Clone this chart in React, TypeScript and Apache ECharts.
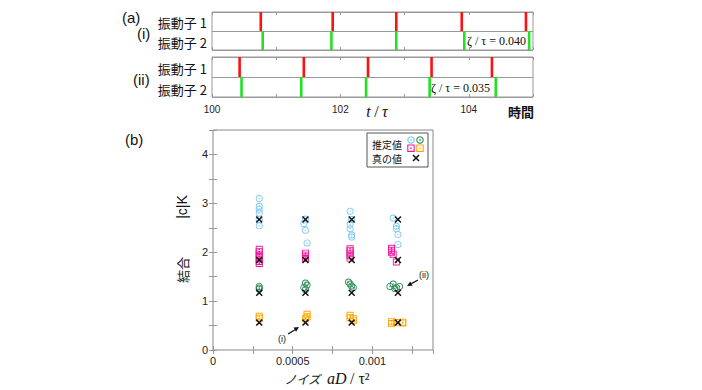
import React, { useEffect, useRef } from 'react';
import * as echarts from 'echarts';

// ---------- data ----------
// panel (a): spike times t/τ of each oscillator
const spikesOsc1_i = [100.76, 101.88, 102.87, 103.89, 104.89];
const spikesOsc2_i = [100.79, 101.86, 102.87, 103.93, 104.94];
const spikesOsc1_ii = [100.43, 101.43, 102.43, 103.42, 104.36];
const spikesOsc2_ii = [100.46, 101.39, 102.40, 103.39, 104.42];
const timeTickLabels = [100, 102, 104];
const rowLabels = ['振動子 1', '振動子 2'];
const zetaLabels = ['ζ / τ = 0.040', 'ζ / τ = 0.035'];

// panel (b): [noise aD/τ², coupling |c|K]
const estBlue: [number, number][] = [
  [0.00029, 3.10], [0.00029, 2.94], [0.00029, 2.88], [0.00029, 2.80], [0.00029, 2.67], [0.00029, 2.54],
  [0.00058, 2.68], [0.00057, 2.59], [0.00058, 2.45], [0.00059, 2.19],
  [0.00086, 2.84], [0.00087, 2.67], [0.00086, 2.57], [0.00086, 2.48], [0.00087, 2.35], [0.00087, 2.31],
  [0.00113, 2.70], [0.00115, 2.53], [0.00115, 2.48], [0.00116, 2.36], [0.00116, 2.16],
];
const estPink: [number, number][] = [
  [0.00029, 2.06], [0.00029, 2.01], [0.00029, 1.96], [0.00029, 1.91], [0.00029, 1.86], [0.00029, 1.81], [0.00029, 1.77],
  [0.00058, 1.98], [0.00058, 1.94], [0.00058, 1.90], [0.00058, 1.87],
  [0.00086, 2.07], [0.00086, 2.03], [0.00086, 1.98], [0.00086, 1.93], [0.00086, 1.88],
  [0.00112, 2.08], [0.00112, 2.04], [0.00112, 2.00], [0.00113, 1.96], [0.00115, 1.80],
];
const estGreen: [number, number][] = [
  [0.00029, 1.30], [0.00029, 1.27], [0.00029, 1.25],
  [0.00058, 1.37], [0.00059, 1.33], [0.00057, 1.28], [0.00058, 1.24],
  [0.00085, 1.39], [0.00086, 1.35], [0.00087, 1.31], [0.00088, 1.28],
  [0.00111, 1.30], [0.00113, 1.35], [0.00115, 1.28], [0.00117, 1.30], [0.00114, 1.26],
];
const estOrange: [number, number][] = [
  [0.00029, 0.69], [0.00029, 0.65],
  [0.00059, 0.73], [0.00059, 0.68], [0.00058, 0.64],
  [0.00086, 0.71], [0.00086, 0.66], [0.00088, 0.64], [0.00088, 0.61],
  [0.00112, 0.58], [0.00112, 0.54], [0.00115, 0.56], [0.00119, 0.57], [0.00119, 0.55],
];
const trueNoise = [0.00029, 0.00058, 0.00087, 0.00116];
const trueCoupling = [2.67, 1.84, 1.17, 0.56];
const noiseTickValues = [0, 0.0005, 0.001];
const noiseTickLabels = ['0', '0.0005', '0.001'];
const couplingTickLabels = ['0', '1', '2', '3', '4'];
const legendLabels = ['推定値', '真の値'];

// ---------- styles ----------
const SANS = '"Liberation Sans", Arial, sans-serif';
const CJK = '"Noto Sans CJK JP", sans-serif';
const SERIF = '"Liberation Serif", "DejaVu Serif", serif';
const RED = '#ff1010';
const GREEN = '#22e022';
const BLUE = '#7cc8f2';
const PINK = '#f0189a';
const SEA = '#2e8b57';
const ORANGE = '#ffa500';

const RING = 'path://M10,0 A10,10 0 1,1 10,20 A10,10 0 1,1 10,0 Z M10,2.6 A7.4,7.4 0 1,0 10,17.4 A7.4,7.4 0 1,0 10,2.6 Z M10,8 A2,2 0 1,1 10,12 A2,2 0 1,1 10,8 Z';
const SQUARE = 'path://M0,0 H20 V20 H0 Z M2.6,2.6 V17.4 H17.4 V2.6 Z M8,8 H12 V12 H8 Z';
const CROSS = 'path://M0,3 L3,0 L10,7 L17,0 L20,3 L13,10 L20,17 L17,20 L10,13 L3,20 L0,17 L7,10 Z';

function spikeSeries(data: number[], row: number, color: string, xIdx: number, yIdx: number) {
  return {
    type: 'custom',
    xAxisIndex: xIdx,
    yAxisIndex: yIdx,
    silent: true,
    data: data.map((t) => [t, row]),
    renderItem: (_p: any, api: any) => {
      const t = api.value(0);
      const r = api.value(1);
      const a = api.coord([t, r]);
      const b = api.coord([t, r + 1]);
      return {
        type: 'line',
        shape: { x1: a[0], y1: a[1], x2: b[0], y2: b[1] },
        style: { stroke: color, lineWidth: 2.6 },
      };
    },
  };
}

function txt(x: number, y: number, text: string, font: string, align = 'left', extra: any = {}) {
  return {
    type: 'text',
    x,
    y,
    silent: true,
    ...extra,
    style: { text, font, fill: '#111', align, verticalAlign: 'middle', textAlign: align, textVerticalAlign: 'middle' },
  };
}

function isMultiple(v: number, step: number) {
  const r = v / step;
  return Math.abs(r - Math.round(r)) < 1e-6;
}

export default function App() {
  const ref = useRef<HTMLDivElement>(null);
  useEffect(() => {
    if (!ref.current) return;
    const chart = echarts.init(ref.current, undefined, { renderer: 'svg' });

    const panelAxisX = (gridIndex: number, position: string, labels: boolean) => ({
      type: 'value',
      gridIndex,
      position,
      min: 100,
      max: 105,
      interval: 1,
      axisLine: { show: false },
      axisTick: { show: true, inside: true, length: 3, lineStyle: { color: '#999' } },
      splitLine: { show: false },
      axisLabel: {
        show: labels,
        margin: 7,
        fontFamily: SANS,
        fontSize: 10,
        color: '#222',
        formatter: (v: number) => (timeTickLabels.some((t) => Math.abs(t - v) < 1e-6) ? String(Math.round(v)) : ''),
      },
    });
    const panelAxisY = (gridIndex: number) => ({
      type: 'value',
      gridIndex,
      min: 0,
      max: 2,
      interval: 1,
      axisLine: { show: false },
      axisTick: { show: false },
      axisLabel: { show: false },
      splitLine: { show: true, lineStyle: { color: '#999', width: 1 } },
    });
    const noiseAxis = (position: string, labels: boolean) => ({
      type: 'value',
      gridIndex: 2,
      position,
      min: 0,
      max: 0.00138,
      interval: 0.00025,
      axisLine: { show: false },
      axisTick: { show: true, inside: true, length: 4, lineStyle: { color: '#999' } },
      splitLine: { show: false },
      axisLabel: {
        show: labels,
        margin: 5,
        fontFamily: SANS,
        fontSize: 11,
        color: '#222',
        showMaxLabel: false,
        formatter: (v: number) => {
          const i = noiseTickValues.findIndex((t) => Math.abs(t - v) < 1e-9);
          return i >= 0 ? noiseTickLabels[i] : '';
        },
      },
    });
    const couplingAxis = (position: string, labels: boolean) => ({
      type: 'value',
      gridIndex: 2,
      position,
      min: 0,
      max: 4.5,
      interval: 0.5,
      axisLine: { show: false },
      axisTick: { show: true, inside: true, length: 4, lineStyle: { color: '#999' } },
      splitLine: { show: false },
      axisLabel: {
        show: labels,
        margin: 5,
        fontFamily: SANS,
        fontSize: 11,
        color: '#222',
        formatter: (v: number) => (isMultiple(v, 1) ? couplingTickLabels[Math.round(v)] ?? '' : ''),
      },
    });

    const scatter = (data: [number, number][], symbol: string, color: string, size = 7) => ({
      type: 'scatter',
      xAxisIndex: 4,
      yAxisIndex: 2,
      symbol,
      symbolSize: size,
      itemStyle: { color, opacity: 1 },
      silent: true,
      data,
    });

    const crosses: [number, number][] = [];
    trueNoise.forEach((x) => trueCoupling.forEach((k) => crosses.push([x, k])));

    // legend box geometry
    const lx = 367, ly = 133;

    chart.setOption({
      animation: false,
      backgroundColor: '#fff',
      grid: [
        { left: 212, top: 12, width: 321, height: 38, show: true, borderColor: '#999', borderWidth: 1, backgroundColor: 'transparent' },
        { left: 212, top: 57, width: 321, height: 40, show: true, borderColor: '#999', borderWidth: 1, backgroundColor: 'transparent' },
        { left: 213, top: 130, width: 220, height: 220, show: true, borderColor: '#888', borderWidth: 1, backgroundColor: 'transparent' },
      ],
      xAxis: [
        panelAxisX(0, 'bottom', false),
        panelAxisX(0, 'top', false),
        panelAxisX(1, 'bottom', true),
        panelAxisX(1, 'top', false),
        noiseAxis('bottom', true),
        noiseAxis('top', false),
      ],
      yAxis: [panelAxisY(0), panelAxisY(1), couplingAxis('left', true), couplingAxis('right', false)],
      series: [
        spikeSeries(spikesOsc1_i, 1, RED, 0, 0),
        spikeSeries(spikesOsc2_i, 0, GREEN, 0, 0),
        spikeSeries(spikesOsc1_ii, 1, RED, 2, 1),
        spikeSeries(spikesOsc2_ii, 0, GREEN, 2, 1),
        scatter(estBlue, RING, BLUE),
        scatter(estPink, SQUARE, PINK),
        scatter(estGreen, RING, SEA),
        scatter(estOrange, SQUARE, ORANGE),
        scatter(crosses, CROSS, '#111', 7),
      ],
      graphic: [
        // panel (a) labels
        txt(122, 17, '(a)', `15px ${SANS}`),
        txt(137, 33, '(i)', `15px ${SANS}`),
        txt(207, 22, rowLabels[0], `13px ${CJK}`, 'right'),
        txt(207, 42, rowLabels[1], `13px ${CJK}`, 'right'),
        txt(133, 79, '(ii)', `15px ${SANS}`),
        txt(207, 68, rowLabels[0], `13px ${CJK}`, 'right'),
        txt(207, 89, rowLabels[1], `13px ${CJK}`, 'right'),
        txt(467, 41, zetaLabels[0], `12px ${SERIF}`),
        txt(431, 88, zetaLabels[1], `12px ${SERIF}`),
        {
          type: 'text', x: 377, y: 111, silent: true,
          style: {
            text: '{i|t} {n|/} {i|τ}', align: 'center', verticalAlign: 'middle', textAlign: 'center', textVerticalAlign: 'middle',
            rich: {
              i: { font: `italic 16px ${SERIF}`, fill: '#111' },
              n: { font: `16px ${SERIF}`, fill: '#111' },
            },
          },
        },
        txt(534, 111, '時間', `bold 13px ${CJK}`, 'right'),
        // panel (b) labels
        txt(125, 139, '(b)', `15px ${SANS}`),
        txt(182, 207, '|c|K', `14px ${SANS}`, 'center', { rotation: Math.PI / 2 }),
        txt(182, 270, '結合', `13px ${CJK}`, 'center', { rotation: Math.PI / 2 }),
        {
          type: 'text', x: 327, y: 378, silent: true,
          style: {
            text: '{j|ノイズ}  {i|aD} {n|/ τ²}', align: 'center', verticalAlign: 'middle', textAlign: 'center', textVerticalAlign: 'middle',
            rich: {
              j: { font: `italic 12px ${CJK}`, fill: '#111' },
              i: { font: `italic 16px ${SERIF}`, fill: '#111' },
              n: { font: `16px ${SERIF}`, fill: '#111' },
            },
          },
        },
        // legend
        { type: 'rect', silent: true, shape: { x: lx, y: ly, width: 61, height: 34 }, style: { fill: '#fff', stroke: '#555', lineWidth: 1 } },
        txt(lx + 5, ly + 11, legendLabels[0], `10px ${CJK}`),
        txt(lx + 5, ly + 25, legendLabels[1], `10px ${CJK}`),
        { type: 'circle', silent: true, shape: { cx: lx + 44, cy: ly + 7, r: 3.2 }, style: { fill: 'none', stroke: BLUE, lineWidth: 1.1 } },
        { type: 'circle', silent: true, shape: { cx: lx + 44, cy: ly + 7, r: 0.8 }, style: { fill: BLUE } },
        { type: 'circle', silent: true, shape: { cx: lx + 53, cy: ly + 7, r: 3.2 }, style: { fill: 'none', stroke: SEA, lineWidth: 1.1 } },
        { type: 'circle', silent: true, shape: { cx: lx + 53, cy: ly + 7, r: 0.8 }, style: { fill: SEA } },
        { type: 'rect', silent: true, shape: { x: lx + 40.8, y: ly + 12, width: 6.4, height: 6.4 }, style: { fill: 'none', stroke: PINK, lineWidth: 1.1 } },
        { type: 'rect', silent: true, shape: { x: lx + 43.3, y: ly + 14.5, width: 1.4, height: 1.4 }, style: { fill: PINK } },
        { type: 'rect', silent: true, shape: { x: lx + 49.8, y: ly + 12, width: 6.4, height: 6.4 }, style: { fill: 'none', stroke: ORANGE, lineWidth: 1.1 } },
        { type: 'rect', silent: true, shape: { x: lx + 52.3, y: ly + 14.5, width: 1.4, height: 1.4 }, style: { fill: ORANGE } },
        { type: 'line', silent: true, shape: { x1: lx + 46, y1: ly + 22, x2: lx + 52, y2: ly + 28 }, style: { stroke: '#111', lineWidth: 1.6 } },
        { type: 'line', silent: true, shape: { x1: lx + 52, y1: ly + 22, x2: lx + 46, y2: ly + 28 }, style: { stroke: '#111', lineWidth: 1.6 } },
        // annotations
        { type: 'line', silent: true, shape: { x1: 288, y1: 334, x2: 295, y2: 329.7 }, style: { stroke: '#111', lineWidth: 1.2 } },
        { type: 'polygon', silent: true, shape: { points: [[299, 327], [296.1, 331.8], [293.5, 327.6]] }, style: { fill: '#111' } },
        txt(282, 339, '(i)', `9px ${SANS}`, 'center'),
        { type: 'line', silent: true, shape: { x1: 418, y1: 280, x2: 411.4, y2: 283.6 }, style: { stroke: '#111', lineWidth: 1.2 } },
        { type: 'polygon', silent: true, shape: { points: [[407, 286], [412.6, 285.8], [410.2, 281.4]] }, style: { fill: '#111' } },
        txt(419, 275, '(ii)', `9px ${SANS}`),
      ],
    });
    return () => chart.dispose();
  }, []);
  return <div ref={ref} style={{ position: 'fixed', left: 0, top: 0, width: 702, height: 390, background: '#fff' }} />;
}
